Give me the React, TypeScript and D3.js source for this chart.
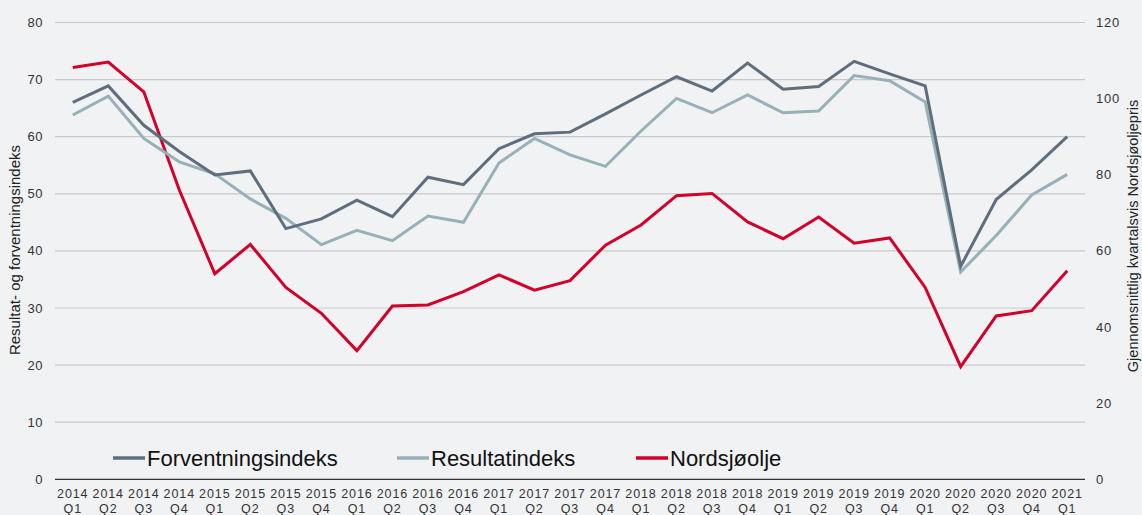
import React from "react";
import * as d3 from "d3";

const quarters = [
  "2014 Q1","2014 Q2","2014 Q3","2014 Q4",
  "2015 Q1","2015 Q2","2015 Q3","2015 Q4",
  "2016 Q1","2016 Q2","2016 Q3","2016 Q4",
  "2017 Q1","2017 Q2","2017 Q3","2017 Q4",
  "2018 Q1","2018 Q2","2018 Q3","2018 Q4",
  "2019 Q1","2019 Q2","2019 Q3","2019 Q4",
  "2020 Q1","2020 Q2","2020 Q3","2020 Q4",
  "2021 Q1",
];

const forventningsindeks = [
  66.0, 68.9, 62.0, 57.4,
  53.3, 54.0, 43.9, 45.6,
  48.9, 46.0, 52.9, 51.6,
  57.9, 60.5, 60.8, 64.0,
  67.3, 70.5, 68.0, 72.9,
  68.3, 68.8, 73.2, 71.0,
  68.9, 37.3, 49.0, 54.2,
  60.0,
];

const resultatindeks = [
  63.8, 67.1, 59.7, 55.6,
  53.5, 49.1, 45.7, 41.1,
  43.6, 41.8, 46.1, 45.0,
  55.4, 59.7, 56.8, 54.8,
  61.0, 66.7, 64.2, 67.3,
  64.2, 64.5, 70.7, 69.8,
  66.1, 36.3, 42.7, 49.8,
  53.4,
];

const nordsjoolje = [
  108.2, 109.6, 101.8, 76.0,
  54.0, 61.7, 50.4, 43.6,
  33.8, 45.5, 45.8, 49.3,
  53.7, 49.7, 52.2, 61.5,
  66.8, 74.5, 75.1, 67.6,
  63.2, 68.9, 62.0, 63.4,
  50.4, 29.6, 42.9, 44.3,
  54.8,
];

const leftTicks = [0, 10, 20, 30, 40, 50, 60, 70, 80];
const rightTicks = [0, 20, 40, 60, 80, 100, 120];

const seriesNames = ["Forventningsindeks", "Resultatindeks", "Nordsjøolje"];
const colors = ["#5e6e7d", "#97b1b8", "#d3002a"];

const W = 1142;
const H = 515;
const M = { left: 55, right: 1085, top: 22.5, bottom: 479.3 };
const FONT = "'Liberation Sans', Arial, sans-serif";

export default function App() {
  const x = d3
    .scaleBand<string>()
    .domain(quarters)
    .range([M.left, M.right])
    .padding(0);
  const cx = (q: string) => (x(q) as number) + x.bandwidth() / 2;
  const yL = d3.scaleLinear().domain([0, 80]).range([M.bottom, M.top]);
  const yR = d3.scaleLinear().domain([0, 120]).range([M.bottom, M.top]);

  const lineL = d3
    .line<number>()
    .x((_, i) => cx(quarters[i]))
    .y((d) => yL(d));
  const lineR = d3
    .line<number>()
    .x((_, i) => cx(quarters[i]))
    .y((d) => yR(d));

  const legendX = [113, 397, 636];

  return (
    <div style={{ position: "fixed", left: 0, top: 0, width: W, height: H, background: "#f1f2f4" }}>
      <svg width={W} height={H} style={{ display: "block", fontFamily: FONT }}>
        <rect x={0} y={0} width={W} height={H} fill="#f1f2f4" />
        {leftTicks.slice(1).map((t) => (
          <line key={"g" + t} x1={M.left} x2={M.right} y1={yL(t)} y2={yL(t)} stroke="#c9c9c9" strokeWidth={1.2} />
        ))}
        <line x1={M.left} x2={M.right} y1={yL(0)} y2={yL(0)} stroke="#333" strokeWidth={1.2} />
        {leftTicks.map((t) => (
          <text key={"l" + t} x={43} y={yL(t)} dy="0.35em" textAnchor="end" fontSize={13} letterSpacing={0.5} fill="#333">
            {t}
          </text>
        ))}
        {rightTicks.map((t) => (
          <text key={"r" + t} x={1096} y={yR(t)} dy="0.35em" textAnchor="start" fontSize={13} letterSpacing={0.8} fill="#333">
            {t}
          </text>
        ))}
        <text transform="translate(20,250) rotate(-90)" textAnchor="middle" fontSize={15} fill="#222">
          Resultat- og forventningsindeks
        </text>
        <text transform="translate(1138,236) rotate(-90)" textAnchor="middle" fontSize={14.5} fill="#222">
          Gjennomsnittlig kvartalsvis Nordsjøoljepris
        </text>
        {quarters.map((q) => {
          const [yr, qq] = q.split(" ");
          return (
            <g key={q}>
              <text x={cx(q)} y={498} textAnchor="middle" fontSize={12.5} letterSpacing={0.9} fill="#333">
                {yr}
              </text>
              <text x={cx(q)} y={513} textAnchor="middle" fontSize={12.5} letterSpacing={0.9} fill="#333">
                {qq}
              </text>
            </g>
          );
        })}
        <path d={lineR(nordsjoolje) || ""} fill="none" stroke={colors[2]} strokeWidth={3} strokeLinejoin="miter" />
        <path d={lineL(resultatindeks) || ""} fill="none" stroke={colors[1]} strokeWidth={3} strokeLinejoin="miter" />
        <path d={lineL(forventningsindeks) || ""} fill="none" stroke={colors[0]} strokeWidth={3} strokeLinejoin="miter" />
        {seriesNames.map((n, i) => (
          <g key={n}>
            <line x1={legendX[i]} x2={legendX[i] + 32} y1={458} y2={458} stroke={colors[i]} strokeWidth={3.5} />
            <text x={legendX[i] + 34} y={458} dy="0.35em" fontSize={22} fill="#111">
              {n}
            </text>
          </g>
        ))}
      </svg>
    </div>
  );
}
